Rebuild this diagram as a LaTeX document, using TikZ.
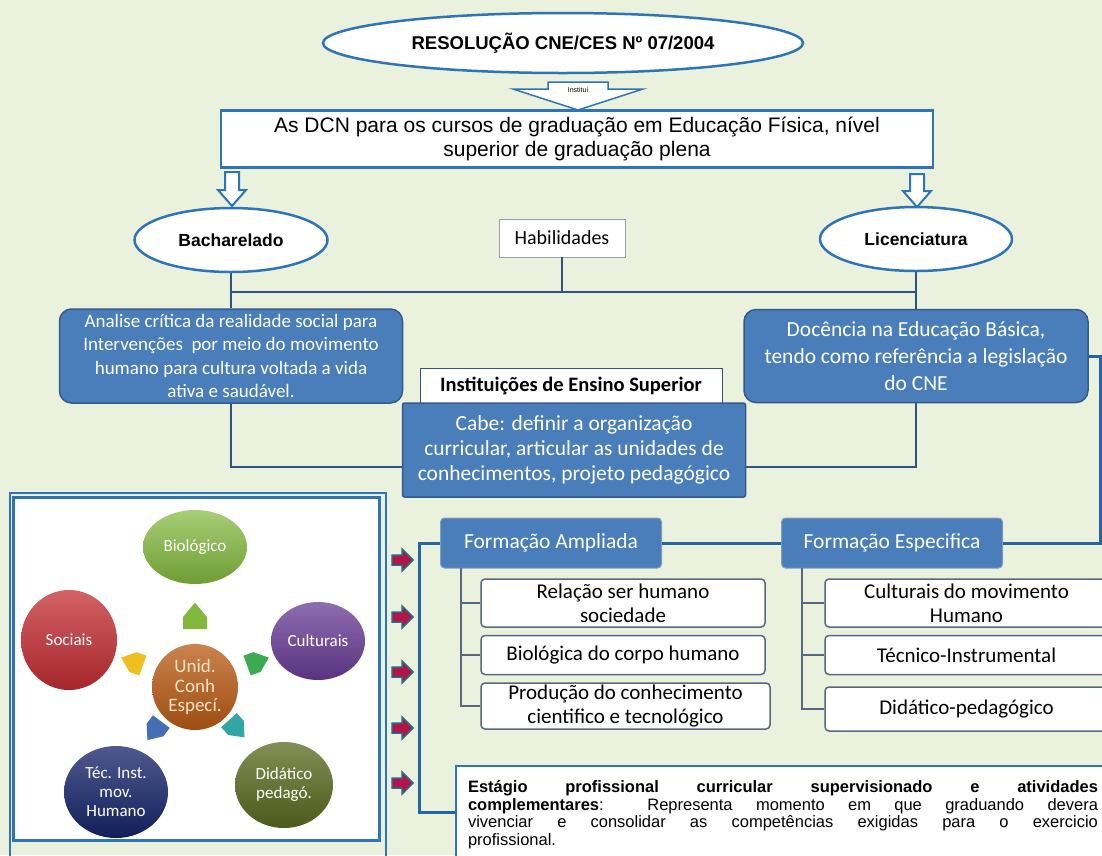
\documentclass[tikz,border=0pt]{standalone}
\usepackage{fontspec}
\setmainfont{Carlito}
\newfontfamily\arialfont{Liberation Sans}
\usepackage{tikz}
\usetikzlibrary{arrows,shapes,positioning,shadows}
\usepackage{xcolor}
\definecolor{dfbg}{RGB}{234,241,221}
\definecolor{dfoval}{RGB}{46,117,182}
\definecolor{dfbox}{RGB}{74,126,187}
\definecolor{dfborder}{RGB}{52,90,138}
\definecolor{dfline}{RGB}{47,84,130}
\definecolor{dfthick}{RGB}{36,101,166}
\definecolor{dfsub}{RGB}{88,104,130}
\definecolor{dfgray}{RGB}{150,160,172}
\definecolor{dfbio}{RGB}{130,185,60}
\definecolor{dfsoc}{RGB}{195,45,50}
\definecolor{dfcult}{RGB}{105,60,150}
\definecolor{dfunid}{RGB}{185,90,20}
\definecolor{dftec}{RGB}{20,35,105}
\definecolor{dfdid}{RGB}{90,105,30}
\definecolor{dfyellow}{RGB}{240,190,30}
\definecolor{dfgreenarr}{RGB}{60,170,80}
\definecolor{dfbluearr}{RGB}{70,110,180}
\definecolor{dftealarr}{RGB}{50,165,165}
\definecolor{dfred}{RGB}{180,20,70}
\definecolor{dfarr}{RGB}{40,105,140}
\tikzstyle{ovalnode} = [ellipse, draw=dfoval, line width=2.5pt, fill=white, inner sep=0pt]
\tikzstyle{hollowarrow} = [draw=dfoval, line width=2pt, fill=white]
\tikzstyle{dcnbox} = [rectangle, draw=dfoval, line width=2.5pt, fill=white, align=center, inner sep=0pt]
\tikzstyle{habbox} = [rectangle, draw=dfgray, line width=0.8pt, fill=white, font=\fontsize{20}{24}\selectfont]
\tikzstyle{bluebox} = [rectangle, rounded corners=12pt, draw=dfborder, line width=1.5pt, fill=dfbox, text=white, align=center, inner sep=2pt]
\tikzstyle{cabebox} = [rectangle, rounded corners=2pt, draw=dfborder, line width=1.5pt, fill=dfbox, text=white, align=center, inner sep=2pt]
\tikzstyle{iesbox} = [rectangle, draw=dfline, line width=1pt, fill=white]
\tikzstyle{formbox} = [rectangle, rounded corners=4pt, draw=dfborder!60, line width=1pt, fill=dfbox, text=white, font=\fontsize{21.5}{25}\selectfont]
\tikzstyle{subbox} = [rectangle, rounded corners=4pt, draw=dfsub, line width=1.5pt, fill=white, align=center, inner sep=1pt, font=\fontsize{21}{24}\selectfont]
\tikzstyle{conline} = [draw=dfline, line width=1.5pt]
\tikzstyle{thickline} = [draw=dfthick, line width=3pt]
\tikzstyle{subline} = [draw=dfsub, line width=2pt]
\tikzstyle{ballnode} = [ellipse, inner sep=0pt, align=center, text=white, font=\fontsize{17}{19}\selectfont]
\tikzstyle{estbox} = [rectangle, draw=dfoval, line width=2pt, fill=white, align=justify, font=\arialfont\fontsize{16.5}{17.5}\selectfont]

\begin{document}
\begin{tikzpicture}[x=1pt, y=-1pt]
\useasboundingbox (0,0) rectangle (1102,855);
\clip (0,0) rectangle (1102,855);
\fill[dfbg] (0,0) rectangle (1102,855);

% Resolucao and DCN
\node[ovalnode, minimum width=480pt, minimum height=60pt, font=\arialfont\bfseries\fontsize{18.5}{22}\selectfont] (res) at (563,43) {RESOLUÇÃO CNE/CES Nº 07/2004};
\draw[hollowarrow, line width=1.5pt] (548,82) -- (608,82) -- (608,89) -- (643,89) -- (578,110) -- (513,89) -- (548,89) -- cycle;
\node[font=\arialfont\fontsize{7}{8}\selectfont] (institui) at (578,90) {Institui};
\node[dcnbox, minimum width=712pt, minimum height=57pt, font=\arialfont\fontsize{21}{24}\selectfont] (dcn) at (577,139) {As DCN para os cursos de graduação em Educação Física, nível\\superior de graduação plena};

% Bacharelado / Licenciatura
\draw[hollowarrow] (225,172) -- (239,172) -- (239,190) -- (246,190) -- (232,206) -- (218,190) -- (225,190) -- cycle;
\draw[hollowarrow] (910,174) -- (924,174) -- (924,191) -- (931,191) -- (917,207) -- (903,191) -- (910,191) -- cycle;
\node[ovalnode, minimum width=193pt, minimum height=64pt, font=\arialfont\bfseries\fontsize{17.5}{20}\selectfont] (bach) at (231,240) {Bacharelado};
\node[ovalnode, minimum width=192pt, minimum height=64pt, font=\arialfont\bfseries\fontsize{17.5}{20}\selectfont] (lic) at (916,239) {Licenciatura};
\node[habbox, minimum width=126pt, minimum height=38pt] (hab) at (562,238) {Habilidades};

\node[bluebox, minimum width=343pt, minimum height=94pt, font=\fontsize{19}{23.5}\selectfont] (analise) at (231,356) {Analise crítica da realidade social para\\Intervenções \ por meio do movimento\\humano para cultura voltada a vida\\ativa e saudável.};
\node[bluebox, minimum width=344pt, minimum height=93pt, font=\fontsize{21.5}{27}\selectfont] (doc) at (916,356) {Docência na Educação Básica,\\tendo como referência a legislação\\do CNE};

\coordinate (hl) at (231,292);
\coordinate (hr) at (916,292);
\draw[conline] (bach.south) -- (analise.north);
\draw[conline] (lic.south) -- (doc.north);
\draw[conline] (hl) -- (hr);
\draw[conline] (hab.south) -- (hab.south |- hl);

\coordinate (bl) at (231,467);
\coordinate (br) at (916,467);
\draw[conline] (analise.south) -- (bl) -- (br) -- (doc.south);

% IES
\node[iesbox, minimum width=302pt, minimum height=36pt, font=\bfseries\fontsize{20.5}{24}\selectfont] (ies) at (571,386) {Instituições de Ensino Superior};
\node[cabebox, minimum width=343pt, minimum height=94pt, font=\fontsize{21.5}{25}\selectfont] (cabe) at (574,450) {Cabe: definir a organização\\curricular, articular as unidades de\\conhecimentos, projeto pedagógico};

% Formacao
\node[formbox, minimum width=221pt, minimum height=50pt] (famp) at (551,543) {Formação Ampliada};
\node[formbox, minimum width=221pt, minimum height=50pt] (fesp) at (892,543) {Formação Especifica};
\coordinate (rtop) at (1100,356);
\coordinate (rbot) at (1100,543);
\draw[thickline] (doc.east) -- (rtop) -- (rbot) -- (fesp.east);
\draw[thickline] (famp.east) -- (fesp.west);

\node[subbox, minimum width=284pt, minimum height=48pt] (rel) at (623,603) {Relação ser humano\\sociedade};
\node[subbox, minimum width=284pt, minimum height=39pt] (biocorpo) at (623,655) {Biológica do corpo humano};
\node[subbox, minimum width=289pt, minimum height=46pt] (prod) at (625.5,706) {Produção do conhecimento\\cientifico e tecnológico};
\coordinate (ab) at (461,568);
\draw[subline] (ab) |- (prod.west);
\draw[subline] (ab |- rel.west) -- (rel.west);
\draw[subline] (ab |- biocorpo.west) -- (biocorpo.west);

\node[subbox, minimum width=283pt, minimum height=48pt] (cultmov) at (966.5,603) {Culturais do movimento\\Humano};
\node[subbox, minimum width=283pt, minimum height=39pt] (tecinst) at (966.5,655) {Técnico-Instrumental};
\node[subbox, minimum width=283pt, minimum height=44pt] (didped) at (966.5,709) {Didático-pedagógico};
\coordinate (eb) at (802,568);
\draw[subline] (eb) |- (didped.west);
\draw[subline] (eb |- cultmov.west) -- (cultmov.west);
\draw[subline] (eb |- tecinst.west) -- (tecinst.west);

% Estagio
\node[estbox, anchor=north west, text width=630pt, inner xsep=12pt, inner ysep=10pt, minimum height=97pt] (estagio) at (455,765) {\tolerance=10000 {\bfseries Estágio profissional curricular supervisionado e atividades\linebreak complementares}: Representa momento em que graduando devera\linebreak vivenciar e consolidar as competências exigidas para o exercicio\linebreak profissional.};
\coordinate (lb1) at (419,543);
\coordinate (lb2) at (419,812);
\draw[thickline] (famp.west) -- (lb1) -- (lb2) -- (lb2 -| estagio.west);

\foreach \ry in {560,617,672,728,783}
  \draw[draw=dfarr, fill=dfred, line width=1.5pt, line join=miter] (392,\ry-5) -- (402,\ry-5) -- (402,\ry-11) -- (413,\ry) -- (402,\ry+11) -- (402,\ry+5) -- (392,\ry+5) -- cycle;

% panel of unidades
\draw[draw=dfoval, line width=1.2pt] (10,493) rectangle (386,870);
\draw[draw=dfoval, line width=3pt, fill=white] (13,497) rectangle (379,840);

\node[ballnode, top color=dfbio!70!white, bottom color=dfbio!85!black, minimum width=104pt, minimum height=74pt] (cbio) at (195,547) {Biológico};
\node[ballnode, top color=dfsoc!75!white, bottom color=dfsoc!85!black, minimum width=96pt, minimum height=100pt] (csoc) at (69,640) {Sociais};
\node[ballnode, top color=dfcult!75!white, bottom color=dfcult!85!black, minimum width=94pt, minimum height=78pt] (ccult) at (318,641) {Culturais};
\node[ballnode, top color=dfunid!75!white, bottom color=dfunid!85!black, minimum width=86pt, minimum height=86pt, text={rgb,255:red,245;green,228;blue,195}, font=\fontsize{19}{19.5}\selectfont] (cunid) at (195,687) {Unid.\\Conh\\Especí.};
\node[ballnode, top color=dftec!75!white, bottom color=dftec!85!black, minimum width=104pt, minimum height=92pt] (ctec) at (116,792) {Téc. Inst.\\mov.\\Humano};
\node[ballnode, top color=dfdid!75!white, bottom color=dfdid!85!black, minimum width=98pt, minimum height=86pt] (cdid) at (284,785) {Didático\\pedagó.};

\foreach \px/\py/\ang/\sz/\col in {195/617/0/12/dfbio, 133/662/70/10.5/dfyellow, 257/662/-70/10.5/dfgreenarr, 155/730/143/10.5/dfbluearr, 236/728/-138/10.5/dftealarr}
  \fill[\col, shift={(\px,\py)}, rotate=\ang, scale=\sz] (-1,1) -- (1,1) -- (1,0) -- (0,-1.2) -- (-1,0) -- cycle;
\end{tikzpicture}
\end{document}
